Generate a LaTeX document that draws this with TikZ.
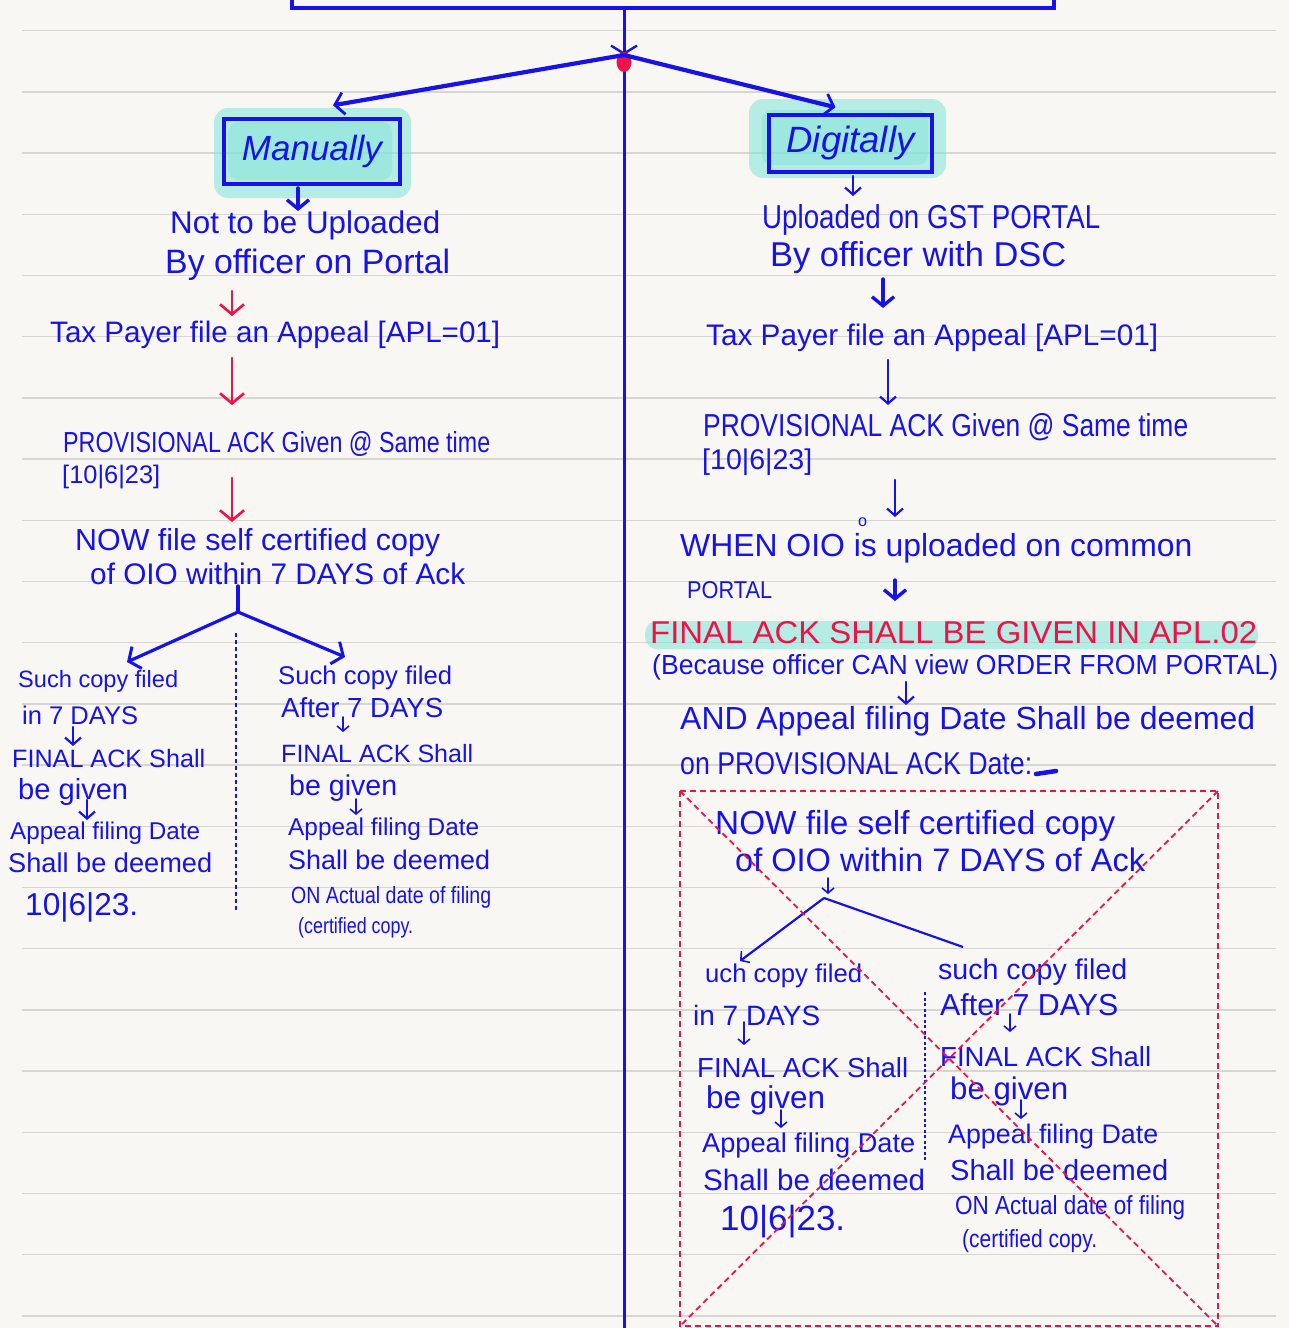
\documentclass[tikz,border=0pt]{standalone}
\usepackage{fontspec}
\setmainfont{Liberation Sans}
\usetikzlibrary{arrows.meta}
\definecolor{ink}{RGB}{22,18,232}
\definecolor{redink}{RGB}{238,18,72}
\definecolor{paper}{RGB}{249,247,243}
\definecolor{ruleline}{RGB}{216,214,210}
\definecolor{hl}{RGB}{126,228,216}
% text scaled to a given width (in pt)
\newcommand\hw[2]{\resizebox{#1pt}{!}{#2}}
% text scaled to a given width and height (in pt)
\newcommand\hwh[3]{\resizebox{#1pt}{#2pt}{#3}}
\tikzset{
  txt/.style={anchor=west, inner sep=0pt, text=ink},
  redtxt/.style={anchor=west, inner sep=0pt, text=redink},
  arr/.style={draw=ink, line width=2.2pt, line cap=round, -{Straight Barb[length=7pt,width=16pt,line width=2.2pt]}},
  smallarr/.style={draw=ink, line width=1.6pt, line cap=round, -{Straight Barb[length=5pt,width=12pt,line width=1.6pt]}},
  bigarr/.style={draw=ink, line width=3.4pt, line cap=round, -{Straight Barb[length=9pt,width=22pt,line width=3.4pt]}},
  redarr/.style={draw=redink, line width=2.6pt, line cap=round, -{Straight Barb[length=10pt,width=24pt,line width=2.6pt]}},
  branch/.style={draw=ink, line width=3.2pt, line cap=round},
  brancharr/.style={branch, -{Straight Barb[length=9pt,width=24pt,line width=3pt]}},
  divider/.style={draw=ink, line width=2pt, dash pattern=on 4pt off 3pt},
  thindivider/.style={draw=ink, line width=1.4pt, dash pattern=on 3pt off 2.5pt},
  headbox/.style={draw=ink, line width=3.4pt, inner sep=0pt, text=ink},
  crossout/.style={draw=redink, line width=1.8pt, dash pattern=on 6pt off 4pt},
}
\begin{document}
\begin{tikzpicture}[x=1pt,y=-1pt]
% paper
\useasboundingbox (0,0) rectangle (1289,1328);
\fill[paper] (0,0) rectangle (1289,1328);
\foreach \k in {0,...,21}
  \draw[ruleline, line width=1.4pt] (22,30.6+61.2*\k) -- (1276,30.6+61.2*\k);

% highlighter marks
\fill[hl, opacity=0.55, rounded corners=14pt] (214,108) rectangle (411,198);
\fill[hl, opacity=0.45, rounded corners=10pt] (228,122) rectangle (392,180);
\fill[hl, opacity=0.55, rounded corners=14pt] (749,99) rectangle (946,178);
\fill[hl, opacity=0.45, rounded corners=10pt] (762,110) rectangle (928,165);
\fill[hl, opacity=0.55, rounded corners=12pt] (645,621) rectangle (1258,649);

% top box and spine
\draw[ink, line width=3.4pt] (292,-20) rectangle (1054,8);
\coordinate (top) at (624,8);
\coordinate (jn) at (624,55);
\coordinate (bot) at (624,1340);
\draw[ink, line width=3pt, -{Straight Barb[length=8pt,width=26pt,line width=2.4pt]}] (top) -- (jn);
\draw[ink, line width=3pt] (jn) -- (bot);
\fill[redink] (624,62) ellipse (7.5 and 10);

% the two ways
\node[headbox, minimum width=176pt, minimum height=65pt] (man) at (312,151.5) {\hw{140}{\itshape Manually}};
\node[headbox, minimum width=163pt, minimum height=57pt] (dig) at (850.5,143.5) {\hw{128}{\itshape Digitally}};
\draw[ink, line width=4.2pt, -{Straight Barb[length=9pt,width=22pt,line width=2.8pt]}] (jn) -- ([xshift=21pt,yshift=12pt]man.north);
\draw[ink, line width=4.2pt, -{Straight Barb[length=9pt,width=22pt,line width=2.8pt]}] (jn) -- ([xshift=-15pt,yshift=6pt]dig.north);

% ---------------- manual filing ----------------
\node[txt] (l1) at (170,225) {\hw{270}{Not to be Uploaded}};
\node[txt] (l2) at (165,265) {\hw{285}{By officer on Portal}};
\node[txt] (l3) at (50,335) {\hw{450}{Tax Payer file an Appeal [APL=01]}};
\node[txt] (l4) at (63,444) {\hwh{427}{21}{PROVISIONAL ACK Given @ Same time}};
\node[txt] (l5) at (62,477) {\hw{98}{[10|6|23]}};
\node[txt] (l6) at (75,543) {\hw{365}{NOW file self certified copy}};
\node[txt] (l7) at (90,574) {\hw{375}{of OIO within 7 DAYS of Ack}};

\coordinate (a1s) at (298,188); \coordinate (a1e) at (298,211);
\draw[bigarr] (a1s) -- (a1e);
\coordinate (a2s) at (232,291); \coordinate (a2e) at (232,316);
\draw[redarr] (a2s) -- (a2e);
\coordinate (a3s) at (232,358); \coordinate (a3e) at (232,405);
\draw[redarr] (a3s) -- (a3e);
\coordinate (a4s) at (232,478); \coordinate (a4e) at (232,522);
\draw[redarr] (a4s) -- (a4e);

% split: within / after 7 days
\coordinate (ls) at (238,586); \coordinate (lb) at (238,612);
\coordinate (lL) at (127,662); \coordinate (lR) at (345,657);
\draw[branch] (ls) -- (lb);
\draw[brancharr] (lb) -- (lL);
\draw[brancharr] (lb) -- (lR);
\coordinate (dv1) at (236,633); \coordinate (dv2) at (236,912);
\draw[divider] (dv1) -- (dv2);

\node[txt] (la1) at (18,681) {\hw{160}{Such copy filed}};
\node[txt] (la2) at (22,715) {\hw{116}{in 7 DAYS}};
\node[txt] (la3) at (12,758) {\hw{193}{FINAL ACK Shall}};
\node[txt] (la4) at (18,792) {\hw{110}{be given}};
\node[txt] (la5) at (10,833) {\hw{190}{Appeal filing Date}};
\node[txt] (la6) at (8,863) {\hw{204}{Shall be deemed}};
\node[txt] (la7) at (25,907) {\hw{113}{10|6|23.}};
\coordinate (b1s) at (73,727); \coordinate (b1e) at (73,746);
\draw[arr] (b1s) -- (b1e);
\coordinate (b2s) at (87,800); \coordinate (b2e) at (87,820);
\draw[arr] (b2s) -- (b2e);

\node[txt] (lb1) at (278,678) {\hw{174}{Such copy filed}};
\node[txt] (lb2) at (281,708) {\hw{162}{After 7 DAYS}};
\node[txt] (lb3) at (281,754) {\hw{192}{FINAL ACK Shall}};
\node[txt] (lb4) at (289,788) {\hw{108}{be given}};
\node[txt] (lb5) at (288,829) {\hw{191}{Appeal filing Date}};
\node[txt] (lb6) at (288,860) {\hw{202}{Shall be deemed}};
\node[txt] (lb7) at (291,897) {\hwh{200}{17}{ON Actual date of filing}};
\node[txt] (lb8) at (298,928) {\hwh{115}{16}{(certified copy.}};
\coordinate (c1s) at (343,717); \coordinate (c1e) at (343,732);
\draw[smallarr] (c1s) -- (c1e);
\coordinate (c2s) at (356,799); \coordinate (c2e) at (356,815);
\draw[smallarr] (c2s) -- (c2e);

% ---------------- digital filing ----------------
\node[txt] (r1) at (762,220) {\hwh{338}{24}{Uploaded on GST PORTAL}};
\node[txt] (r2) at (770,258) {\hw{296}{By officer with DSC}};
\node[txt] (r3) at (706,338) {\hw{452}{Tax Payer file an Appeal [APL=01]}};
\node[txt] (r4) at (703,427) {\hwh{485}{23}{PROVISIONAL ACK Given @ Same time}};
\node[txt] (r5) at (702,462) {\hw{110}{[10|6|23]}};
\node[txt] (r6) at (680,548) {\hw{512}{WHEN OIO is uploaded on common}};
\node[txt] (r6o) at (858,522) {\hw{9}{o}};
\node[txt] (r7) at (687,590) {\hwh{85}{17}{PORTAL}};
\node[redtxt] (r8) at (650,633) {\hwh{607}{22}{FINAL ACK SHALL BE GIVEN IN APL.02}};
\node[txt] (r9) at (652,667) {\hwh{626}{20}{(Because officer CAN view ORDER FROM PORTAL)}};
\node[txt] (r10) at (680,721) {\hw{575}{AND Appeal filing Date Shall be deemed}};
\node[txt] (r11) at (680,764) {\hwh{352}{22}{on PROVISIONAL ACK Date:}};
\coordinate (dsh1) at (1036,774); \coordinate (dsh2) at (1056,771);
\draw[ink, line width=4.5pt, line cap=round] (dsh1) -- (dsh2);

\coordinate (d1s) at (853,176); \coordinate (d1e) at (853,196);
\draw[arr] (d1s) -- (d1e);
\coordinate (d2s) at (883,279); \coordinate (d2e) at (883,308);
\draw[bigarr] (d2s) -- (d2e);
\coordinate (d3s) at (888,360); \coordinate (d3e) at (888,405);
\draw[arr] (d3s) -- (d3e);
\coordinate (d4s) at (895,480); \coordinate (d4e) at (895,517);
\draw[arr] (d4s) -- (d4e);
\coordinate (d5s) at (895,580); \coordinate (d5e) at (895,601);
\draw[bigarr] (d5s) -- (d5e);
\coordinate (d6s) at (906,682); \coordinate (d6e) at (906,705);
\draw[arr] (d6s) -- (d6e);

% crossed-out block
\coordinate (xa) at (680,791); \coordinate (xb) at (1218,791);
\coordinate (xc) at (1218,1326); \coordinate (xd) at (680,1326);
\draw[crossout] (xa) -- (xb) -- (xc) -- (xd) -- cycle;

\node[txt] (s1) at (715,826) {\hw{400}{NOW file self certified copy}};
\node[txt] (s2) at (735,860) {\hw{410}{of OIO within 7 DAYS of Ack}};
\coordinate (e1s) at (828,878); \coordinate (e1e) at (828,894);
\draw[smallarr] (e1s) -- (e1e);
\coordinate (sb) at (824,898); \coordinate (sL) at (740,961); \coordinate (sR) at (963,947);
\draw[ink, line width=2.2pt, -{Straight Barb[length=6pt,width=14pt,line width=1.6pt]}] (sb) -- (sL);
\draw[ink, line width=2.2pt] (sb) -- (sR);
\coordinate (dv3) at (925,992); \coordinate (dv4) at (925,1162);
\draw[thindivider] (dv3) -- (dv4);

\node[txt] (sa1) at (705,976) {\hw{157}{uch copy filed}};
\node[txt] (sa2) at (693,1015) {\hw{127}{in 7 DAYS}};
\node[txt] (sa3) at (697,1068) {\hw{211}{FINAL ACK Shall}};
\node[txt] (sa4) at (706,1100) {\hw{119}{be given}};
\node[txt] (sa5) at (702,1145) {\hw{213}{Appeal filing Date}};
\node[txt] (sa6) at (703,1180) {\hw{222}{Shall be deemed}};
\node[txt] (sa7) at (720,1222) {\hw{125}{10|6|23.}};
\coordinate (f1s) at (744,1022); \coordinate (f1e) at (744,1045);
\draw[smallarr] (f1s) -- (f1e);
\coordinate (f2s) at (781,1110); \coordinate (f2e) at (781,1128);
\draw[smallarr] (f2s) -- (f2e);

\node[txt] (sb1) at (938,972) {\hw{189}{such copy filed}};
\node[txt] (sb2) at (940,1005) {\hw{178}{After 7 DAYS}};
\node[txt] (sb3) at (940,1057) {\hw{211}{FINAL ACK Shall}};
\node[txt] (sb4) at (950,1091) {\hw{118}{be given}};
\node[txt] (sb5) at (948,1137) {\hw{210}{Appeal filing Date}};
\node[txt] (sb6) at (950,1170) {\hw{218}{Shall be deemed}};
\node[txt] (sb7) at (955,1208) {\hwh{230}{19}{ON Actual date of filing}};
\node[txt] (sb8) at (962,1241) {\hwh{135}{18}{(certified copy.}};
\coordinate (g1s) at (1010,1014); \coordinate (g1e) at (1010,1032);
\draw[smallarr] (g1s) -- (g1e);
\coordinate (g2s) at (1021,1100); \coordinate (g2e) at (1021,1119);
\draw[smallarr] (g2s) -- (g2e);

% cross drawn over the block
\draw[crossout] (xa) -- (xc);
\draw[crossout] (xb) -- (xd);
\end{tikzpicture}
\end{document}
